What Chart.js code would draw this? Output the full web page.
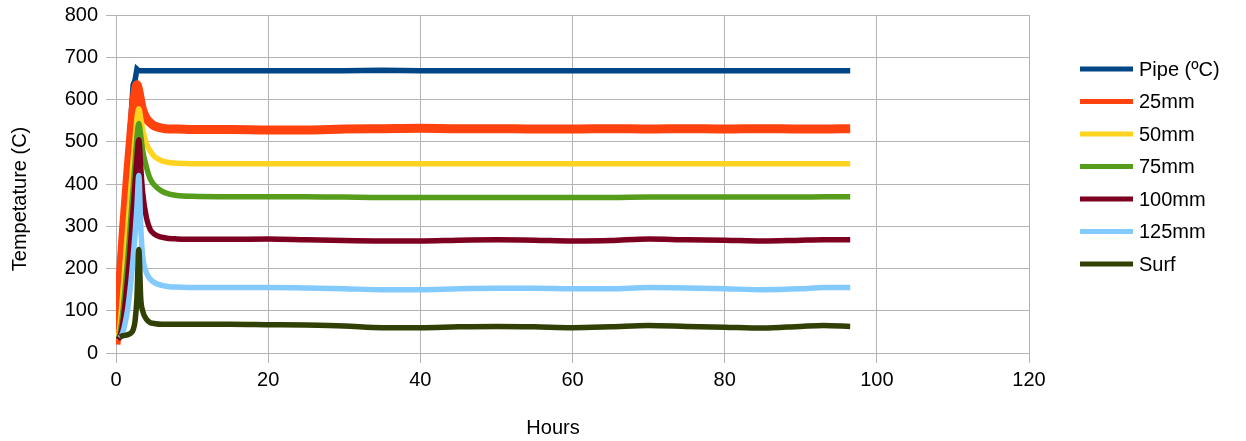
<!DOCTYPE html>
<html>
<head>
<meta charset="utf-8">
<script src="https://cdn.jsdelivr.net/npm/chart.js@4/dist/chart.umd.min.js"></script>
<style>
  html, body { margin: 0; padding: 0; background: #fff; }
  #wrap { width: 1246px; height: 441px; position: relative; }
</style>
</head>
<body>
<div id="wrap"><canvas id="chartTemps"></canvas></div>
<script>
const hours = [0, 0.25, 0.5, 0.75, 1, 1.25, 1.5, 1.75, 2, 2.25, 2.5, 2.75, 3, 3.25, 3.5, 4, 4.5, 5, 6, 7,
    8, 10, 15, 20, 25, 30, 35, 40, 45, 50, 55, 60, 65, 70, 75, 80, 85, 90, 93, 96.5];

const pipe = [null, 85, 150, 220, 290, 360, 430, 500, 565, 635, 645, 672, 668, 668, 668, 668, 668, 668, 668, 668,
    668, 668, 668, 668, 668, 668, 669, 668, 668, 668, 668, 668, 668, 668, 668, 668, 668, 668, 668, 668];
const mm25 = [20, 90, 160, 230, 295, 355, 415, 470, 525, 575, 615, 635, 620, 595, 575, 555, 545, 538, 532, 530,
    530, 529, 529, 528, 528, 530, 531, 532, 531, 531, 530, 530, 531, 530, 531, 530, 531, 530, 530, 531];
const mm50 = [null, 32, 60, 110, 165, 225, 285, 345, 400, 455, 505, 555, 578, 555, 530, 495, 478, 466, 455, 451,
    449, 448, 448, 448, 448, 448, 448, 448, 448, 448, 448, 448, 448, 448, 448, 448, 448, 448, 448, 448];
const mm75 = [null, 32, 45, 75, 115, 165, 215, 270, 330, 390, 450, 510, 543, 515, 480, 440, 412, 398, 383, 376,
    373, 371, 370, 370, 370, 369, 368, 368, 368, 368, 368, 368, 368, 369, 369, 369, 369, 369, 370, 370];
const mm100 = [null, 32, 38, 55, 85, 125, 170, 220, 280, 340, 400, 460, 505, 440, 380, 320, 292, 282, 274, 271,
    270, 269, 269, 270, 268, 266, 265, 265, 267, 268, 267, 265, 266, 270, 268, 267, 265, 267, 268, 268];
const mm125 = [null, null, 36, 42, 55, 75, 100, 135, 175, 225, 280, 345, 420, 300, 230, 190, 175, 167, 160, 157,
    156, 155, 155, 155, 154, 152, 150, 150, 152, 153, 153, 152, 152, 155, 154, 152, 150, 152, 155, 155];
const surf = [null, null, 38, 40, 41, 42, 43, 45, 48, 55, 75, 130, 245, 130, 100, 80, 72, 70, 68, 68,
    68, 68, 68, 67, 66, 64, 60, 60, 62, 63, 62, 60, 62, 65, 63, 61, 59, 63, 65, 63];

const seriesNames = ['Pipe (ºC)', '25mm', '50mm', '75mm', '100mm', '125mm', 'Surf'];
const seriesValues = [pipe, mm25, mm50, mm75, mm100, mm125, surf];
const seriesColors = ['#004586', '#ff420e', '#ffd320', '#579d1c', '#7e0021', '#83caff', '#314004'];

const yTicks = [0, 100, 200, 300, 400, 500, 600, 700, 800];
const xTicks = [0, 20, 40, 60, 80, 100, 120];

const FONT = '"Liberation Sans", Arial, sans-serif';

// legend and axis titles drawn by hand, LibreOffice style
const sidePlugin = {
    id: 'sideStuff',
    afterDraw(chart) {
        const ctx = chart.ctx;
        ctx.save();
        ctx.font = '20px ' + FONT;
        ctx.fillStyle = '#000';
        ctx.textBaseline = 'middle';
        chart.data.datasets.forEach((ds, i) => {
            const y = 69 + i * 32.5;
            ctx.fillStyle = ds.borderColor;
            ctx.fillRect(1080, y - 2.5, 53, 5);
            ctx.fillStyle = '#000';
            ctx.textAlign = 'left';
            ctx.fillText(ds.label, 1139, y + 1);
        });
        ctx.textAlign = 'center';
        ctx.fillText('Hours', 553, 428);
        ctx.translate(20, 199);
        ctx.rotate(-Math.PI / 2);
        ctx.fillText('Tempetature (C)', 0, 0);
        ctx.restore();
    }
};

const datasets = seriesNames.map((name, i) => ({
    label: name,
    data: hours.map((h, j) => ({ x: h, y: seriesValues[i][j] })),
    borderColor: seriesColors[i],
    backgroundColor: seriesColors[i],
    borderWidth: i === 1 ? 9 : 5.5,
    pointRadius: 0,
    fill: false,
    cubicInterpolationMode: i === 0 ? 'default' : 'monotone',
    tension: i === 0 ? 0 : 0.4,
    order: seriesNames.length - 1 - i
}));

new Chart(document.getElementById('chartTemps'), {
    type: 'line',
    data: { datasets: datasets },
    options: {
        responsive: true,
        maintainAspectRatio: false,
        animation: false,
        layout: { padding: { top: 15, right: 217, left: 0, bottom: 0 } },
        plugins: {
            legend: { display: false },
            tooltip: { enabled: false }
        },
        scales: {
            x: {
                type: 'linear',
                min: 0,
                max: 120,
                afterBuildTicks: s => { s.ticks = xTicks.map(v => ({ value: v })); },
                afterFit: s => { s.height = 88; s.paddingLeft = 0; s.paddingRight = 0; },
                ticks: { font: { size: 20, family: FONT }, color: '#000', padding: 5, maxRotation: 0 },
                grid: { color: '#b3b3b3', tickLength: 10, drawTicks: true },
                border: { color: '#b3b3b3' }
            },
            y: {
                min: 0,
                max: 800,
                afterBuildTicks: s => { s.ticks = yTicks.map(v => ({ value: v })); },
                afterFit: s => { s.width = 116; s.paddingTop = 0; s.paddingBottom = 0; },
                ticks: { font: { size: 20, family: FONT }, color: '#000', padding: 8 },
                grid: { color: '#b3b3b3', tickLength: 10, drawTicks: true },
                border: { color: '#b3b3b3' }
            }
        }
    },
    plugins: [sidePlugin]
});
</script>
</body>
</html>
